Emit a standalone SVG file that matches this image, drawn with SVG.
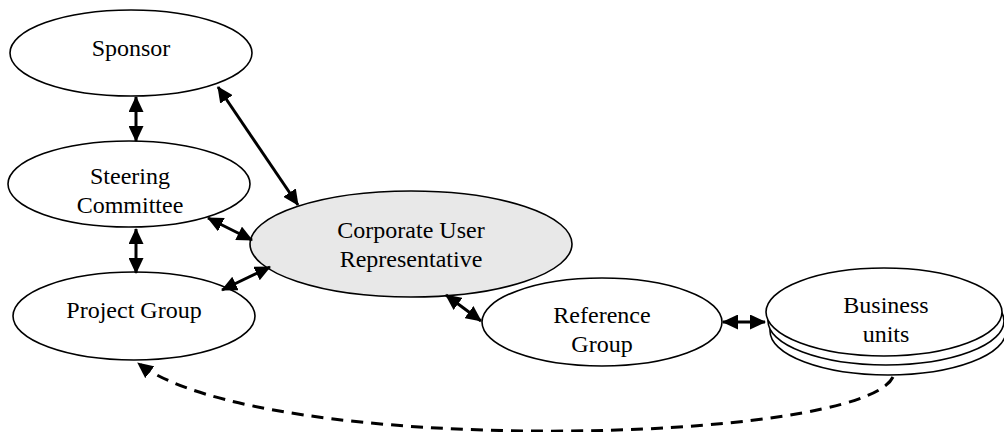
<svg xmlns="http://www.w3.org/2000/svg" width="1004" height="432" viewBox="0 0 1004 432">
<style>
.node ellipse{fill:#fff;stroke:#000;stroke-width:1.6}
.node.main ellipse{fill:#e8e8e8}
.node text{font-family:'Liberation Serif','DejaVu Serif',serif;font-size:24px;fill:#000;text-anchor:middle}
.conn line,.conn path{stroke:#000;stroke-width:3;fill:none}
.conn .dash{stroke-dasharray:12 8}
</style>
<defs>
<marker id="ah" viewBox="0 0 16 15" refX="15" refY="7.5" markerWidth="16" markerHeight="15" markerUnits="userSpaceOnUse" orient="auto-start-reverse">
<path d="M0,0 L16,7.5 L0,15 z" fill="#000"/>
</marker>
</defs>
<g id="sponsor" class="node"><ellipse cx="131" cy="53" rx="121" ry="43"/><text x="131" y="56" font-family="Liberation Serif, serif">Sponsor</text></g>
<g id="steering" class="node"><ellipse cx="129" cy="184" rx="121" ry="43"/><text x="130" y="184" font-family="Liberation Serif, serif">Steering</text><text x="130" y="213" font-family="Liberation Serif, serif">Committee</text></g>
<g id="project" class="node"><ellipse cx="134" cy="316" rx="121" ry="44"/><text x="134" y="318" font-family="Liberation Serif, serif">Project Group</text></g>
<g id="corporate" class="node main"><ellipse cx="411" cy="244" rx="161" ry="53"/><text x="411" y="238" font-family="Liberation Serif, serif">Corporate User</text><text x="411" y="267" font-family="Liberation Serif, serif">Representative</text></g>
<g id="reference" class="node"><ellipse cx="602" cy="322" rx="120" ry="44"/><text x="602" y="323" font-family="Liberation Serif, serif">Reference</text><text x="602" y="352" font-family="Liberation Serif, serif">Group</text></g>
<g id="business" class="node"><ellipse cx="888" cy="331" rx="118" ry="44"/><ellipse cx="886" cy="321" rx="118" ry="44"/><ellipse cx="884" cy="312" rx="118" ry="44"/><text x="886" y="313" font-family="Liberation Serif, serif">Business</text><text x="886" y="342" font-family="Liberation Serif, serif">units</text></g>
<g id="connectors" class="conn">
<line x1="136" y1="97" x2="136" y2="141" marker-start="url(#ah)" marker-end="url(#ah)"/>
<line x1="136" y1="229" x2="136" y2="273" marker-start="url(#ah)" marker-end="url(#ah)"/>
<line x1="218" y1="87" x2="298" y2="205" marker-start="url(#ah)" marker-end="url(#ah)"/>
<line x1="208" y1="218" x2="252" y2="240" marker-start="url(#ah)" marker-end="url(#ah)"/>
<line x1="222" y1="290" x2="270" y2="267" marker-start="url(#ah)" marker-end="url(#ah)"/>
<line x1="446" y1="295" x2="481" y2="321" marker-start="url(#ah)" marker-end="url(#ah)"/>
<line x1="723" y1="322" x2="765" y2="322" marker-start="url(#ah)" marker-end="url(#ah)"/>
<path class="dash" d="M893,377 C860,445 260,458 138,363" marker-end="url(#ah)"/>
</g>
</svg>
